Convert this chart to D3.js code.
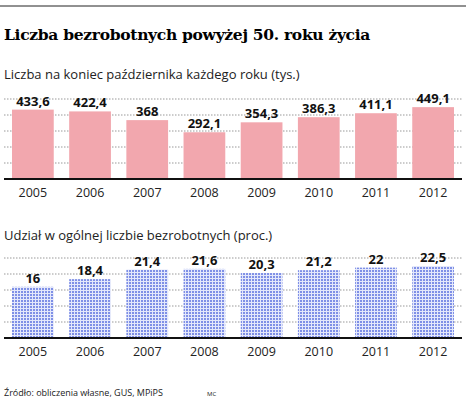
<!DOCTYPE html>
<html><head><meta charset="utf-8">
<script src="https://cdn.jsdelivr.net/npm/d3@7"></script>
<style>body{margin:0;background:#fff}</style>
</head><body>
<svg id="c" width="466" height="404"></svg>
<script>
const years = ["2005","2006","2007","2008","2009","2010","2011","2012"];
const unemployed = [433.6, 422.4, 368, 292.1, 354.3, 386.3, 411.1, 449.1];
const share = [16, 18.4, 21.4, 21.6, 20.3, 21.2, 22, 22.5];
const fmt = v => String(v).replace(".", ",");

const svg = d3.select("#c");
const defs = svg.append("defs");
const pat = defs.append("pattern").attr("id", "dots")
    .attr("width", 3).attr("height", 3).attr("patternUnits", "userSpaceOnUse");
pat.append("rect").attr("width", 3).attr("height", 3).attr("fill", "#e4e8fb");
pat.append("rect").attr("width", 2).attr("height", 2).attr("fill", "#7f90e6");

svg.append("line").attr("x1", 0).attr("x2", 466).attr("y1", 6).attr("y2", 6)
    .attr("stroke", "#222").attr("stroke-width", 1);
svg.append("text").attr("x", 4).attr("y", 40)
    .attr("font-family", "DejaVu Serif").attr("font-weight", "bold").attr("font-size", 15.5)
    .attr("letter-spacing", -0.3)
    .text("Liczba bezrobotnych powyżej 50. roku życia");

const x = d3.scaleBand().domain(years).range([4, 462]).paddingInner(0.27).paddingOuter(0.14);

function panel(title, titleY, base, values, domainMax, fill) {
  svg.append("text").attr("x", 4).attr("y", titleY)
      .attr("font-family", "Open Sans").attr("font-size", 13).attr("fill", "#222").text(title);
  const y = d3.scaleLinear().domain([0, domainMax]).range([base, base - 80]);
  const g = svg.append("g");
  y.ticks(4).filter(t => t > 0).forEach(t => {
    g.append("line").attr("x1", 4).attr("x2", 462).attr("y1", y(t)).attr("y2", y(t))
      .attr("stroke", "#999").attr("stroke-dasharray", "1.5,1.5");
  });
  g.selectAll("rect.bar").data(values).join("rect").attr("class", "bar")
    .attr("x", (d, i) => x(years[i])).attr("width", x.bandwidth())
    .attr("y", d => y(d)).attr("height", d => base - y(d)).attr("fill", fill);
  g.selectAll("text.val").data(values).join("text").attr("class", "val")
    .attr("x", (d, i) => x(years[i]) + x.bandwidth() / 2).attr("y", d => y(d) - 4)
    .attr("text-anchor", "middle").attr("font-family", "Open Sans").attr("font-weight", "bold")
    .attr("font-size", 13).attr("fill", "#111").text(fmt);
  g.append("line").attr("x1", 4).attr("x2", 462).attr("y1", base).attr("y2", base)
    .attr("stroke", "#111").attr("stroke-width", 2);
  const ax = g.append("g").attr("transform", `translate(0,${base})`)
    .call(d3.axisBottom(x).tickSize(0).tickPadding(9));
  ax.select(".domain").remove();
  ax.selectAll("text").attr("font-family", "Open Sans").attr("font-size", 12.5).attr("fill", "#222");
}

panel("Liczba na koniec października każdego roku (tys.)", 79, 179, unemployed, 500, "#f2a7ae");
panel("Udział w ogólnej liczbie bezrobotnych (proc.)", 240, 338, share, 25, "url(#dots)");

svg.append("text").attr("x", 4).attr("y", 396).attr("font-family", "Open Sans")
  .attr("font-size", 9).attr("fill", "#222").text("Źródło: obliczenia własne, GUS, MPiPS");
svg.append("text").attr("x", 207).attr("y", 396).attr("font-family", "Open Sans")
  .attr("font-size", 6).attr("fill", "#222").text("MC");
</script>
</body></html>
